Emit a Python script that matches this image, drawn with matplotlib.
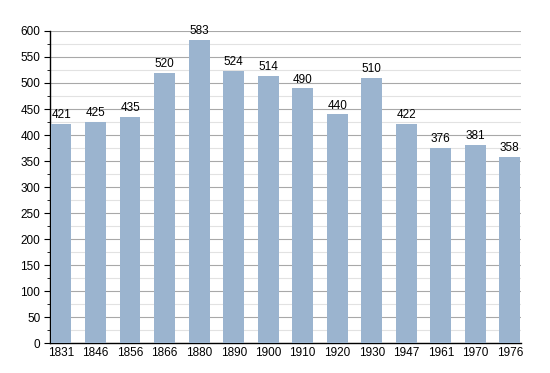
import matplotlib
matplotlib.use("Agg")
import matplotlib.pyplot as plt
from matplotlib.ticker import MultipleLocator

# population by census year
years = ["1831", "1846", "1856", "1866", "1880", "1890", "1900",
         "1910", "1920", "1930", "1947", "1961", "1970", "1976"]
population = [421, 425, 435, 520, 583, 524, 514, 490, 440, 510, 422, 376, 381, 358]

plt.rcParams["font.family"] = ["Liberation Sans", "DejaVu Sans"]

fig = plt.figure(figsize=(5.5, 3.73), dpi=100)
ax = fig.add_axes([0.091, 0.080, 0.856, 0.837])

x = range(len(years))
bars = ax.bar(x, population, width=0.6, color="#9bb4cf", zorder=3)
for xi, v in zip(x, population):
    ax.text(xi, v + 5, str(v), ha="center", va="bottom", fontsize=8.5, zorder=4)

ax.set_xlim(-0.32, len(years) - 0.68)
ax.set_ylim(0, 600)
ax.set_xticks(list(x))
ax.set_xticklabels(years)
ax.yaxis.set_major_locator(MultipleLocator(50))
ax.yaxis.set_minor_locator(MultipleLocator(25))

ax.grid(axis="y", which="major", color="#a8a8a8", linewidth=0.8, zorder=0)
ax.grid(axis="y", which="minor", color="#e2e2e2", linewidth=0.8, zorder=0)

for side in ("top", "right"):
    ax.spines[side].set_visible(False)
ax.spines["left"].set_linewidth(1.0)
ax.spines["bottom"].set_linewidth(1.0)

ax.tick_params(axis="x", length=0, labelsize=8.5, pad=3)
ax.tick_params(axis="y", which="major", length=4, labelsize=8.5, pad=3)
ax.tick_params(axis="y", which="minor", length=2.5)

fig.savefig("out.png", dpi=100)
